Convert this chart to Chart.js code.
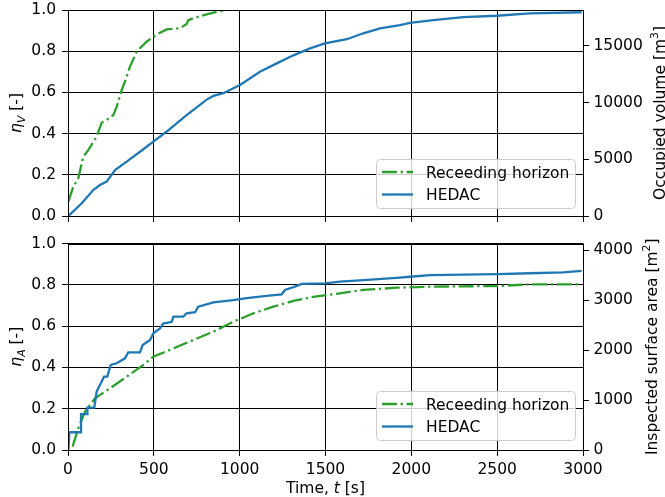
<!DOCTYPE html>
<html>
<head>
<meta charset="utf-8">
<script src="https://cdn.jsdelivr.net/npm/chart.js@4.4.0/dist/chart.umd.min.js"></script>
<style>
body { margin: 0; background: #fff; }
canvas { position: absolute; left: 0; }
</style>
</head>
<body>
<canvas id="chartV" width="665" height="231" style="top:0px"></canvas>
<canvas id="chartA" width="665" height="266" style="top:231px"></canvas>
<script>
// top panel: occupied volume ratio eta_V
const volTimeRH = [2, 31, 60, 89, 118, 167, 196, 225, 264, 284, 313, 342, 357, 400, 419, 458, 497, 536, 575, 652, 691, 701, 730, 808, 886, 915];
const volRH = [0.070, 0.142, 0.183, 0.288, 0.320, 0.385, 0.453, 0.466, 0.490, 0.531, 0.612, 0.676, 0.717, 0.798, 0.814, 0.846, 0.870, 0.890, 0.906, 0.911, 0.932, 0.951, 0.960, 0.979, 0.995, 1.0];
const volTimeHedac = [2, 80, 147, 186, 225, 274, 342, 439, 497, 575, 691, 808, 847, 905, 1002, 1118, 1216, 1313, 1410, 1497, 1624, 1720, 1818, 1934, 1992, 2128, 2303, 2497, 2691, 2992];
const volHedac = [0, 0.062, 0.126, 0.150, 0.167, 0.223, 0.264, 0.324, 0.361, 0.410, 0.490, 0.565, 0.583, 0.596, 0.636, 0.700, 0.741, 0.780, 0.814, 0.838, 0.858, 0.887, 0.911, 0.927, 0.938, 0.951, 0.965, 0.972, 0.984, 0.989];

// bottom panel: inspected area ratio eta_A
const areaTimeRH = [27, 60, 99, 157, 245, 342, 439, 497, 614, 730, 847, 963, 1080, 1196, 1313, 1429, 1584, 1720, 1915, 2109, 2497, 2691, 2992];
const areaRH = [0.016, 0.105, 0.186, 0.250, 0.299, 0.355, 0.412, 0.452, 0.492, 0.533, 0.573, 0.621, 0.662, 0.694, 0.722, 0.742, 0.759, 0.775, 0.786, 0.791, 0.794, 0.802, 0.802];
const areaTimeHedac = [2, 8, 76, 76, 113, 113, 153, 167, 186, 210, 229, 249, 284, 332, 351, 419, 435, 478, 497, 536, 555, 604, 614, 672, 691, 740, 759, 847, 963, 1041, 1157, 1245, 1264, 1322, 1361, 1497, 1584, 1720, 1915, 1992, 2109, 2497, 2691, 2885, 2992];
const areaHedac = [0, 0.086, 0.086, 0.174, 0.174, 0.205, 0.205, 0.283, 0.315, 0.355, 0.355, 0.412, 0.420, 0.444, 0.473, 0.473, 0.508, 0.533, 0.565, 0.589, 0.612, 0.621, 0.646, 0.646, 0.662, 0.667, 0.694, 0.715, 0.726, 0.735, 0.746, 0.754, 0.775, 0.791, 0.804, 0.807, 0.815, 0.823, 0.834, 0.839, 0.847, 0.852, 0.856, 0.860, 0.867];

const timeTicks = [0, 500, 1000, 1500, 2000, 2500, 3000];
const ratioTicks = [0, 0.2, 0.4, 0.6, 0.8, 1.0];
const volumeTicks = [0, 5000, 10000, 15000];
const areaTicks = [0, 1000, 2000, 3000, 4000];
const volumeMax = 18170;
const areaMax = 4130;

const FONT = 'DejaVu Sans';
const FS = 15.5;
Chart.defaults.font.family = FONT;
Chart.defaults.font.size = FS;
Chart.defaults.color = '#000';

const pts = (xs, ys) => xs.map((x, i) => ({x: x, y: ys[i]}));
const fixTicks = list => s => { s.ticks = list.map(v => ({value: v})); };

// rich text: segments {t, it, sub, sup}; (x, y) = centre of text on its baseline
const drawRich = (ctx, segs, x, y, rotate) => {
    const fontOf = s => (s.it ? 'italic ' : '') + (s.sub || s.sup ? FS * 0.7 : FS) + 'px ' + FONT;
    let w = 0;
    segs.forEach(s => { ctx.font = fontOf(s); w += ctx.measureText(s.t).width; });
    ctx.save();
    ctx.translate(x, y);
    if (rotate) ctx.rotate(-Math.PI / 2);
    ctx.fillStyle = '#000';
    ctx.textBaseline = 'alphabetic';
    let cx = -w / 2;
    segs.forEach(s => {
        ctx.font = fontOf(s);
        let dy = 0;
        if (s.sub) dy = 3.5;
        if (s.sup) dy = -6.5;
        ctx.fillText(s.t, cx, dy);
        cx += ctx.measureText(s.t).width;
    });
    ctx.restore();
};

const framePlugin = {
    id: 'frame',
    afterDatasetsDraw(chart) {
        const a = chart.chartArea, ctx = chart.ctx;
        ctx.save();
        ctx.strokeStyle = '#000';
        ctx.lineWidth = 1;
        ctx.strokeRect(Math.round(a.left) + 0.5, Math.round(a.top) + 0.5,
            Math.round(a.right) - Math.round(a.left), Math.round(a.bottom) - Math.round(a.top));
        ctx.restore();
    }
};

const legendPlugin = {
    id: 'mplLegend',
    afterDraw(chart, args, opts) {
        const a = chart.chartArea, ctx = chart.ctx;
        const w = 199, h = 49;
        const x0 = a.right - 8 - w, y0 = a.bottom - opts.gap - h;
        ctx.save();
        ctx.beginPath();
        ctx.roundRect(x0 + 0.5, y0 + 0.5, w, h, 4);
        ctx.fillStyle = 'rgba(255,255,255,0.8)';
        ctx.fill();
        ctx.strokeStyle = '#cccccc';
        ctx.lineWidth = 1;
        ctx.stroke();
        const items = [chart.data.datasets[1], chart.data.datasets[0]];
        items.forEach((ds, i) => {
            const yy = y0 + 13 + i * 22.5;
            ctx.beginPath();
            ctx.setLineDash(ds.borderDash || []);
            ctx.strokeStyle = ds.borderColor;
            ctx.lineWidth = ds.borderWidth;
            ctx.moveTo(x0 + 6, yy);
            ctx.lineTo(x0 + 37, yy);
            ctx.stroke();
            ctx.setLineDash([]);
            ctx.fillStyle = '#000';
            ctx.font = FS + 'px ' + FONT;
            ctx.textBaseline = 'alphabetic';
            ctx.fillText(ds.label, x0 + 50, yy + 5.5);
        });
        ctx.restore();
    }
};

const titlesPlugin = {
    id: 'mplTitles',
    afterDraw(chart, args, opts) {
        const a = chart.chartArea, ctx = chart.ctx;
        const midY = (a.top + a.bottom) / 2;
        drawRich(ctx, opts.left, 21, midY, true);
        drawRich(ctx, opts.right, opts.rightX, midY, true);
        if (opts.bottom) drawRich(ctx, opts.bottom, (a.left + a.right) / 2, opts.bottomY, false);
    }
};

const makeChart = (id, cfg) => new Chart(document.getElementById(id), {
    type: 'line',
    data: {
        datasets: [
            {label: 'HEDAC', data: pts(cfg.hT, cfg.h), borderColor: '#1f77b4', borderWidth: 2.3,
             pointRadius: 0, tension: 0, yAxisID: 'y'},
            {label: 'Receeding horizon', data: pts(cfg.rhT, cfg.rh), borderColor: '#2ca02c', borderWidth: 2.3,
             borderDash: [14.9, 3.7, 2.3, 3.7], pointRadius: 0, tension: 0, yAxisID: 'y'}
        ]
    },
    options: {
        responsive: false,
        animation: false,
        devicePixelRatio: 1,
        layout: {padding: {top: cfg.padTop, left: 0, right: 0, bottom: 0}},
        plugins: {
            legend: {display: false},
            tooltip: {enabled: false},
            mplLegend: {gap: cfg.legendGap},
            mplTitles: cfg.titles
        },
        scales: {
            x: {
                type: 'linear', min: 0, max: 3000,
                afterBuildTicks: fixTicks(timeTicks),
                ticks: {display: cfg.showX, padding: 5, maxRotation: 0, autoSkip: false, callback: v => String(v)},
                grid: {color: '#000', tickColor: '#000', tickLength: 6},
                border: {display: false},
                afterFit: s => { s.height = cfg.xHeight; s.paddingLeft = 0; s.paddingRight = 0; }
            },
            y: {
                position: 'left', min: 0, max: 1,
                afterBuildTicks: fixTicks(ratioTicks),
                ticks: {padding: 6, autoSkip: false, callback: v => v.toFixed(1)},
                grid: {color: '#000', tickColor: '#000', tickLength: 6},
                border: {display: false},
                afterFit: s => { s.width = 68; s.paddingTop = 0; s.paddingBottom = 0; }
            },
            y2: {
                position: 'right', min: 0, max: cfg.rightMax,
                afterBuildTicks: fixTicks(cfg.rightTicks),
                ticks: {padding: 4.5, autoSkip: false, callback: v => String(v)},
                grid: {drawOnChartArea: false, color: '#000', tickColor: '#000', tickLength: 6},
                border: {display: false},
                afterFit: s => { s.width = 82; s.paddingTop = 0; s.paddingBottom = 0; }
            }
        }
    },
    plugins: [framePlugin, legendPlugin, titlesPlugin]
});

makeChart('chartV', {
    rhT: volTimeRH, rh: volRH, hT: volTimeHedac, h: volHedac,
    padTop: 10, xHeight: 15, showX: false, legendGap: 8,
    rightMax: volumeMax, rightTicks: volumeTicks,
    titles: {
        left: [{t: 'η', it: true}, {t: 'V', it: true, sub: true}, {t: ' [-]'}],
        right: [{t: 'Occupied volume [m'}, {t: '3', sup: true}, {t: ']'}],
        rightX: 664.5
    }
});

makeChart('chartA', {
    rhT: areaTimeRH, rh: areaRH, hT: areaTimeHedac, h: areaHedac,
    padTop: 12.5, xHeight: 47, showX: true, legendGap: 10,
    rightMax: areaMax, rightTicks: areaTicks,
    titles: {
        left: [{t: 'η', it: true}, {t: 'A', it: true, sub: true}, {t: ' [-]'}],
        right: [{t: 'Inspected surface area [m'}, {t: '2', sup: true}, {t: ']'}],
        rightX: 656.5,
        bottom: [{t: 'Time, '}, {t: 't', it: true}, {t: ' [s]'}],
        bottomY: 261.5
    }
});
</script>
</body>
</html>
